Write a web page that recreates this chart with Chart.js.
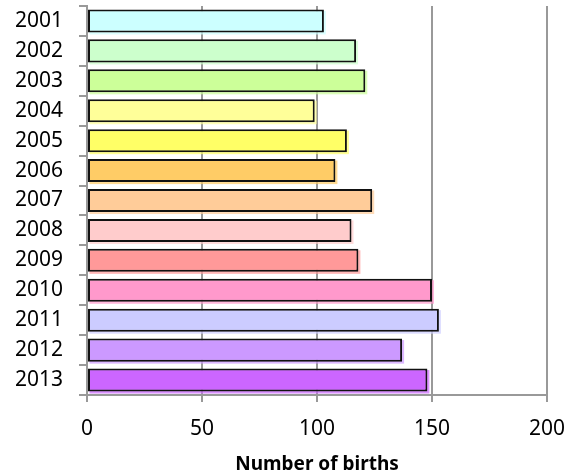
<!DOCTYPE html>
<html><head><meta charset="utf-8">
<script src="https://cdn.jsdelivr.net/npm/chart.js@4"></script>
<style>html,body{margin:0;padding:0;background:#fff}#w{width:578px;height:476px;position:relative}</style>
</head><body><div id="w"><canvas id="c"></canvas></div>
<script>
const years = ["2001","2002","2003","2004","2005","2006","2007","2008","2009","2010","2011","2012","2013"];
const births = [103,117,121,99,113,108,124,115,118,150,153,137,148];
const barColors = ["#CCFFFF","#CCFFCC","#CCFF99","#FFFF99","#FFFF66","#FFCC66","#FFCC99","#FFCCCC","#FF9999","#FF99CC","#CCCCFF","#CC99FF","#CC66FF"];
const xTicks = [0,50,100,150,200];
const xTitle = "Number of births";

const FONT = "'Noto Sans', sans-serif";
const shadowPlugin = {
  id: 'barShadow',
  beforeDatasetsDraw(chart) {
    const ctx = chart.ctx;
    const meta = chart.getDatasetMeta(0);
    ctx.save();
    meta.data.forEach((el, i) => {
      const p = el.getProps(['x','y','base','height'], true);
      ctx.globalAlpha = 0.7;
      ctx.fillStyle = barColors[i];
      ctx.fillRect(p.base + 1.5, p.y - p.height / 2 + 1.5, p.x - p.base + 0.5, p.height + 0.5);
    });
    ctx.restore();
  }
};
new Chart(document.getElementById('c'), {
  type: 'bar',
  data: { labels: years, datasets: [{ data: births, backgroundColor: barColors, borderColor: '#111', borderWidth: 2, borderSkipped: false, barPercentage: 0.77, categoryPercentage: 1 }] },
  plugins: [shadowPlugin],
  options: {
    indexAxis: 'y', responsive: true, maintainAspectRatio: false, animation: false,
    layout: { padding: { top: 6, right: 31, left: 0, bottom: 0 } },
    plugins: { legend: { display: false }, tooltip: { enabled: false } },
    scales: {
      x: {
        min: 0, max: 200,
        afterBuildTicks: s => { s.ticks = xTicks.map(v => ({ value: v })); },
        afterFit: s => { s.height = 81; s.paddingLeft = 0; s.paddingRight = 0; },
        grid: { color: '#999', lineWidth: 2, tickLength: 7, tickColor: '#999' },
        border: { color: '#999', width: 2 },
        ticks: { color: '#000', font: { family: FONT, size: 21 }, padding: 14 },
        title: { display: true, text: xTitle, color: '#000', font: { family: FONT, size: 19, weight: 'bold' }, padding: { top: 10, bottom: 0 } }
      },
      y: {
        afterFit: s => { s.width = 87; s.paddingTop = 0; s.paddingBottom = 0; },
        grid: { offset: true, drawOnChartArea: false, color: '#999', lineWidth: 2, tickLength: 8, tickColor: '#999' },
        border: { color: '#999', width: 2 },
        ticks: { color: '#000', font: { family: FONT, size: 21 }, padding: 16, autoSkip: false }
      }
    }
  }
});
</script></body></html>
